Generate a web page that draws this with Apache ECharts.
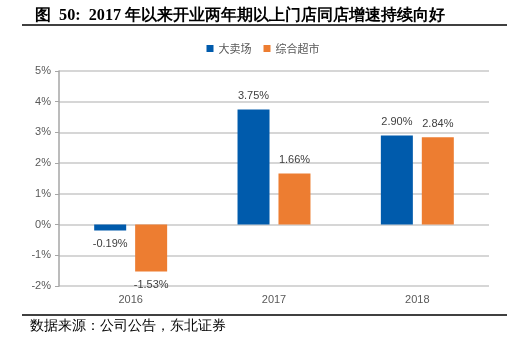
<!DOCTYPE html>
<html>
<head>
<meta charset="utf-8">
<script src="https://cdn.jsdelivr.net/npm/echarts@6/dist/echarts.min.js"></script>
<style>
  html, body { margin: 0; padding: 0; background: #fff; }
  #chart { width: 526px; height: 351px; }
</style>
</head>
<body>
<div id="chart"></div>
<script>
const categories = ['2016', '2017', '2018']
const hypermarket = [-0.19, 3.75, 2.90]
const supermarket = [-1.53, 1.66, 2.84]
const seriesNames = ['大卖场', '综合超市']

const chart = echarts.init(document.getElementById('chart'), null, { renderer: 'canvas' })

const labelFmt = p => p.value.toFixed(2) + '%'

const option = {
  animation: false,
  title: {
    text: '图  50:  2017 年以来开业两年期以上门店同店增速持续向好',
    left: 30,
    top: 3,
    textStyle: { fontFamily: 'serif', fontSize: 16.2, fontWeight: 'bold', color: '#000' }
  },
  legend: {
    data: seriesNames,
    top: 38,
    left: 'center',
    itemWidth: 7,
    itemHeight: 7,
    itemGap: 12,
    icon: 'rect',
    textStyle: { fontSize: 11, color: '#595959', fontFamily: 'Noto Sans CJK SC' }
  },
  grid: { left: 59, right: 37, top: 71, bottom: 65 },
  xAxis: {
    type: 'category',
    data: categories,
    axisLine: { show: false },
    axisTick: { show: false },
    axisLabel: { color: '#595959', fontSize: 11, margin: 8, fontFamily: 'Liberation Sans' }
  },
  yAxis: {
    type: 'value',
    min: -2,
    max: 5,
    interval: 1,
    axisLine: { show: true, lineStyle: { color: '#a6a6a6', width: 1.5 } },
    axisTick: { show: true, length: 4, lineStyle: { color: '#a6a6a6' } },
    splitLine: { lineStyle: { color: '#c8c8c8', width: 1.5 } },
    axisLabel: { formatter: v => v + '%', color: '#595959', fontSize: 11, fontFamily: 'Liberation Sans', margin: 8 }
  },
  series: [
    {
      name: seriesNames[0],
      type: 'bar',
      data: hypermarket,
      barWidth: 32,
      barGap: '28%',
      itemStyle: { color: '#005BAC' },
      label: { show: true, position: 'top', formatter: labelFmt, color: '#404040', fontSize: 11, fontFamily: 'Liberation Sans', distance: 8 }
    },
    {
      name: seriesNames[1],
      type: 'bar',
      data: supermarket,
      barWidth: 32,
      itemStyle: { color: '#ED7D31' },
      label: { show: true, position: 'top', formatter: labelFmt, color: '#404040', fontSize: 11, fontFamily: 'Liberation Sans', distance: 8 }
    }
  ],
  graphic: [
    { type: 'line', shape: { x1: 22, y1: 25, x2: 507, y2: 25 }, style: { stroke: '#000', lineWidth: 1.5 } },
    { type: 'line', shape: { x1: 22, y1: 315, x2: 507, y2: 315 }, style: { stroke: '#000', lineWidth: 1.5 } },
    { type: 'text', left: 30, top: 319, style: { text: '数据来源：公司公告，东北证券', font: '14px serif', fill: '#000' } }
  ]
}

// negative values get their label below the bar
option.series.forEach(s => {
  s.data = s.data.map(v => v < 0 ? { value: v, label: { position: 'bottom' } } : v)
})

chart.setOption(option)
</script>
</body>
</html>
